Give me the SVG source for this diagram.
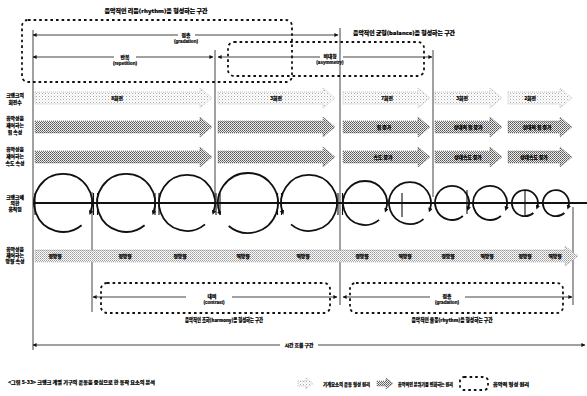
<svg xmlns="http://www.w3.org/2000/svg" width="587" height="396" viewBox="0 0 587 396">
<style>
text{font-family:"Noto Sans CJK KR","Noto Sans",sans-serif;font-weight:900;fill:#000;stroke:#000;stroke-width:0.18;text-anchor:middle}
.s{font-size:4.8px}
.m{font-size:5.2px}
.en{font-size:4.6px;font-family:"Liberation Sans",sans-serif;font-weight:bold}
.vl{stroke:#111;stroke-width:0.8;fill:none}
.al{stroke:#111;stroke-width:0.8;fill:none}
.box{fill:none;stroke:#111;stroke-width:1.8;stroke-dasharray:2.6 3}
.lt{fill:url(#pl);stroke:#aaa;stroke-width:0.7;stroke-dasharray:1 1}
.dk{fill:url(#pd);stroke:#666;stroke-width:0.7;stroke-dasharray:1 1}
.md{fill:url(#pm);stroke:#999;stroke-width:0.7;stroke-dasharray:1 1}
.cir{fill:none;stroke:#111;stroke-width:1.8}
.bar{stroke:#111;stroke-width:1.1}
</style>
<defs>
<pattern id="pl" width="3" height="3" patternUnits="userSpaceOnUse"><rect width="3" height="3" fill="#fff"/><rect width="1" height="1" fill="#aaa"/><rect x="1.5" y="1.5" width="1" height="1" fill="#ccc"/></pattern>
<pattern id="pm" width="2" height="2" patternUnits="userSpaceOnUse"><rect width="2" height="2" fill="#fff"/><rect width="1" height="1" fill="#999"/><rect x="1" y="1" width="1" height="1" fill="#bbb"/></pattern>
<pattern id="pd" width="2" height="2" patternUnits="userSpaceOnUse"><rect width="2" height="2" fill="#eee"/><rect width="1" height="1" fill="#555"/><rect x="1" y="1" width="1" height="1" fill="#777"/></pattern>
<marker id="ah" viewBox="0 0 10 10" refX="9" refY="5" markerUnits="userSpaceOnUse" markerWidth="5" markerHeight="4" orient="auto-start-reverse"><path d="M0,0 L10,5 L0,10 z" fill="#111"/></marker>
<marker id="ch" viewBox="0 0 10 10" refX="5" refY="5" markerUnits="userSpaceOnUse" markerWidth="4.5" markerHeight="4.5" orient="auto"><path d="M0,0 L10,5 L0,10 z" fill="#111"/></marker>
</defs>
<rect width="587" height="396" fill="#fff"/>

<g id="frame-lines">
<line class="vl" x1="33" y1="30" x2="33" y2="350"/>
<line class="vl" x1="215" y1="50" x2="215" y2="197"/>
<line class="vl" x1="340" y1="28" x2="340" y2="305"/>
<line class="vl" x1="433" y1="50" x2="433" y2="197"/>
<line class="vl" x1="92" y1="192" x2="92" y2="312"/>
<line class="vl" x1="573" y1="207" x2="573" y2="305"/>
</g>

<g id="top-sections">
<text class="m" x="156" y="13" textLength="103" lengthAdjust="spacingAndGlyphs">음악적인 리듬(rhythm)을 형성하는 구간</text>
<rect class="box" x="22" y="20" width="270" height="62" rx="6"/>
<rect class="box" x="228" y="42" width="196" height="34" rx="6"/>
<text class="m" x="404" y="35" textLength="102" lengthAdjust="spacingAndGlyphs">음악적인 균형(balance)을 형성하는 구간</text>
<text class="s" x="186" y="37">점층</text>
<text class="en" x="186" y="43">(gradation)</text>
<text class="s" x="125" y="59">반복</text>
<text class="en" x="125" y="65">(repetition)</text>
<text class="s" x="330" y="58">비대칭</text>
<text class="en" x="330" y="64">(asymmetry)</text>
</g>

<g id="connectors">
<path class="al" d="M33,35 H178" marker-start="url(#ah)"/>
<path class="al" d="M195,35 H338" marker-end="url(#ah)"/>
<path class="al" d="M33,57 H114" marker-start="url(#ah)"/>
<path class="al" d="M136,57 H213" marker-end="url(#ah)"/>
<path class="al" d="M218,57 H320" marker-start="url(#ah)"/>
<path class="al" d="M343,57 H432" marker-end="url(#ah)"/>
<path class="al" d="M93,297 H186" marker-start="url(#ah)"/>
<path class="al" d="M232,297 H337" marker-end="url(#ah)"/>
<path class="al" d="M343,297 H430" marker-start="url(#ah)"/>
<path class="al" d="M465,297 H572" marker-end="url(#ah)"/>
<path class="al" d="M33,345 H280" marker-start="url(#ah)"/>
<path class="al" d="M318,345 H585" marker-end="url(#ah)"/>
</g>

<g id="row-labels">
<text class="s" x="15" y="97">크랭크의</text>
<text class="s" x="15" y="104">회전수</text>
<text class="s" x="15" y="120">음악성을</text>
<text class="s" x="15" y="127">제어하는</text>
<text class="s" x="15" y="134">힘 속성</text>
<text class="s" x="15" y="151">음악성을</text>
<text class="s" x="15" y="158">제어하는</text>
<text class="s" x="15" y="165">속도 속성</text>
<text class="s" x="15" y="199">크랭크에</text>
<text class="s" x="15" y="205">의한</text>
<text class="s" x="15" y="211">움직임</text>
<text class="s" x="15" y="251">음악성을</text>
<text class="s" x="15" y="257">제어하는</text>
<text class="s" x="15" y="263">방향 속성</text>
</g>

<g id="row-rotation">
<polygon class="lt" points="35,92 200,92 200,88 212,98 200,108 200,104 35,104"/>
<polygon class="lt" points="218,92 323,92 323,88 335,98 323,108 323,104 218,104"/>
<polygon class="lt" points="343,92 418,92 418,88 430,98 418,108 418,104 343,104"/>
<polygon class="lt" points="435,92 490,92 490,88 502,98 490,108 490,104 435,104"/>
<polygon class="lt" points="508,92 560,92 560,88 572,98 560,108 560,104 508,104"/>
<text class="s" x="117" y="100">8회전</text>
<text class="s" x="276" y="100">3회전</text>
<text class="s" x="387" y="100">7회전</text>
<text class="s" x="462" y="100">3회전</text>
<text class="s" x="530" y="100">2회전</text>
</g>

<g id="row-force">
<polygon class="dk" points="35,121 200,121 200,117 212,127 200,137 200,133 35,133"/>
<polygon class="dk" points="218,121 323,121 323,117 335,127 323,137 323,133 218,133"/>
<polygon class="dk" points="343,121 418,121 418,117 430,127 418,137 418,133 343,133"/>
<polygon class="dk" points="435,121 490,121 490,117 502,127 490,137 490,133 435,133"/>
<polygon class="dk" points="508,121 560,121 560,117 572,127 560,137 560,133 508,133"/>
<text class="s" x="384" y="129">힘 증가</text>
<text class="s" x="468" y="129">상대적 힘 증가</text>
<text class="s" x="537" y="129">상대적 힘 증가</text>
</g>

<g id="row-speed">
<polygon class="dk" points="35,151 200,151 200,147 212,157 200,167 200,163 35,163"/>
<polygon class="dk" points="218,151 323,151 323,147 335,157 323,167 323,163 218,163"/>
<polygon class="dk" points="343,151 418,151 418,147 430,157 418,167 418,163 343,163"/>
<polygon class="dk" points="435,151 490,151 490,147 502,157 490,167 490,163 435,163"/>
<polygon class="dk" points="508,151 560,151 560,147 572,157 560,167 560,163 508,163"/>
<text class="s" x="383" y="159">속도 증가</text>
<text class="s" x="468" y="159">상대속도 증가</text>
<text class="s" x="534" y="159">상대속도 증가</text>
</g>

<g id="row-crank">
<line x1="33" y1="203" x2="587" y2="203" stroke="#111" stroke-width="2.2"/>
<path class="cir" d="M81.6,225.2 A29,29 0 1 1 90.3,212.9" marker-end="url(#ch)"/>
<path class="cir" d="M144.6,225.2 A29,29 0 1 1 153.3,212.9" marker-end="url(#ch)"/>
<path class="cir" d="M205,224.4 A28,28 0 1 1 213.3,212.6" marker-end="url(#ch)"/>
<path class="cir" d="M228.7,226 A30,30 0 1 0 219.8,213.3" marker-end="url(#ch)"/>
<path class="cir" d="M291,224.4 A28,28 0 1 0 282.7,212.6" marker-end="url(#ch)"/>
<path class="cir" d="M379.1,219.9 A22,22 0 1 1 385.7,210.5" marker-end="url(#ch)"/>
<path class="cir" d="M423.5,219.1 A21,21 0 1 1 429.7,210.2" marker-end="url(#ch)"/>
<path class="cir" d="M462.9,216 A17,17 0 1 1 468,208.8" marker-end="url(#ch)"/>
<path class="cir" d="M500.9,216 A17,17 0 1 1 506,208.8" marker-end="url(#ch)"/>
<path class="cir" d="M533.4,213 A13,13 0 1 1 537.2,207.4" marker-end="url(#ch)"/>
<path class="cir" d="M564.4,213 A13,13 0 1 1 568.2,207.4" marker-end="url(#ch)"/>
<line class="bar" x1="402" y1="193" x2="402" y2="217" stroke-width="1.6"/>
<line class="bar" x1="467" y1="190" x2="467" y2="214" stroke-width="1.6"/>
<line class="bar" x1="525" y1="190" x2="525" y2="216" stroke-width="1.6"/>
<g class="bar">
<line x1="35" y1="193" x2="35" y2="215"/>
<line x1="93.5" y1="193" x2="93.5" y2="215"/>
<line x1="97.5" y1="193" x2="97.5" y2="215"/>
<line x1="155" y1="193" x2="155" y2="215"/>
<line x1="159" y1="193" x2="159" y2="215"/>
<line x1="216" y1="193" x2="216" y2="215"/>
<line x1="220" y1="193" x2="220" y2="215"/>
<line x1="277.5" y1="193" x2="277.5" y2="215"/>
<line x1="281.5" y1="193" x2="281.5" y2="215"/>
<line x1="338" y1="193" x2="338" y2="215"/>
<line x1="342.5" y1="193" x2="342.5" y2="215"/>
</g>
</g>

<g id="row-direction">
<polygon class="md" points="35,250 565,250 565,246 578,256 565,266 565,262 35,262"/>
<text class="s" x="55" y="258">정방향</text>
<text class="s" x="125" y="258">정방향</text>
<text class="s" x="180" y="258">정방향</text>
<text class="s" x="243" y="258">역방향</text>
<text class="s" x="303" y="258">역방향</text>
<text class="s" x="362" y="258">정방향</text>
<text class="s" x="405" y="258">역방향</text>
<text class="s" x="448" y="258">정방향</text>
<text class="s" x="487" y="258">역방향</text>
<text class="s" x="525" y="258">정방향</text>
<text class="s" x="555" y="258">역방향</text>
</g>

<g id="bottom-sections">
<rect class="box" x="101" y="283" width="229" height="30" rx="6"/>
<rect class="box" x="350" y="283" width="213" height="30" rx="6"/>
<text class="s" x="212" y="298">대비</text>
<text class="en" x="214" y="304">(contrast)</text>
<text class="m" x="224" y="322" textLength="78" lengthAdjust="spacingAndGlyphs">음악적인 조화(harmony)를 형성하는 구간</text>
<text class="s" x="447" y="298">점층</text>
<text class="en" x="447" y="304">(gradation)</text>
<text class="m" x="452" y="322" textLength="81" lengthAdjust="spacingAndGlyphs">음악적인 율동(rhythm)을 형성하는 구간</text>
<text class="s" x="299" y="347">시간 흐름 구간</text>
</g>

<g id="caption">
<text class="s" x="8" y="384" style="text-anchor:start" textLength="147" lengthAdjust="spacingAndGlyphs">&lt;그림 5-33&gt; 크랭크 계열 기구의 운동을 중심으로 한 동작 요소의 분석</text>
</g>

<g id="legend">
<polygon class="lt" points="298,381 306,381 306,378 313,383.5 306,389 306,386 298,386"/>
<text class="s" x="323" y="385.5" style="text-anchor:start" textLength="47" lengthAdjust="spacingAndGlyphs">기계요소의 운동 형성 원리</text>
<polygon class="dk" points="377,381 386,381 386,378 393,383.5 386,389 386,386 377,386"/>
<text class="s" x="398" y="385.5" style="text-anchor:start" textLength="55" lengthAdjust="spacingAndGlyphs">음악적인 분위기를 변화하는 원리</text>
<rect class="box" x="460" y="377" width="28" height="13" rx="4" stroke-width="1.4"/>
<text class="s" x="493" y="385.5" style="text-anchor:start" textLength="36" lengthAdjust="spacingAndGlyphs">음악적 형성 원리</text>
</g>
</svg>
